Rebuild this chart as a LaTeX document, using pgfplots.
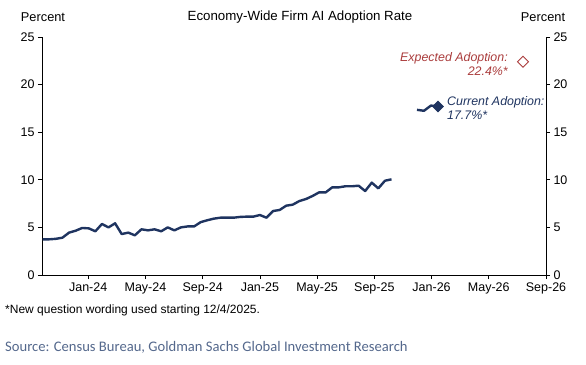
\documentclass[border=0pt]{standalone}
\usepackage{fontspec}
\setmainfont{Liberation Sans}
\newfontfamily\srcfont{Carlito}
\usepackage{pgfplots}
\pgfplotsset{compat=1.18}
\definecolor{navy}{RGB}{31,52,96}
\definecolor{expred}{RGB}{170,60,60}
\definecolor{srcblue}{RGB}{84,104,140}
\begin{document}
\begin{tikzpicture}[x=1pt,y=1pt]
\path[use as bounding box] (-42,-89) rectangle (544,275);
\begin{axis}[at={(0,0)}, anchor=south west, scale only axis,
  width=504pt, height=238pt,
  xmin=-3.23, xmax=32, ymin=0, ymax=25,
  axis x line*=bottom, axis y line*=left,
  axis line style={-, line width=0.6pt},
  xtick={0,4,8,12,16,20,24,28,32},
  xticklabels={Jan-24,May-24,Sep-24,Jan-25,May-25,Sep-25,Jan-26,May-26,Sep-26},
  ytick={0,5,10,15,20,25},
  tick align=outside, major tick length=4pt,
  tick style={black, line width=0.6pt},
  ticklabel style={font=\fontsize{12.5}{14}\selectfont},
  /pgf/number format/assume math mode=true,
  clip=false]
\addplot[navy, line width=2.4pt, line join=round] coordinates {
(-3.18,3.75) (-2.72,3.75) (-2.26,3.8) (-1.80,3.92) (-1.34,4.45) (-0.88,4.65)
(-0.42,4.94) (0.04,4.9) (0.50,4.59) (0.96,5.36) (1.42,5.0) (1.88,5.43)
(2.34,4.3) (2.80,4.45) (3.26,4.17) (3.72,4.8) (4.18,4.69) (4.64,4.8)
(5.10,4.59) (5.56,5.0) (6.02,4.69) (6.48,5.0) (6.94,5.1) (7.40,5.1)
(7.86,5.55) (8.32,5.75) (8.78,5.92) (9.24,6.02) (9.70,6.02) (10.16,6.02)
(10.62,6.1) (11.08,6.13) (11.54,6.13) (12.00,6.3) (12.46,6.02) (12.92,6.72)
(13.38,6.83) (13.84,7.28) (14.30,7.39) (14.76,7.77) (15.22,7.98) (15.68,8.3)
(16.14,8.68) (16.60,8.68) (17.06,9.21) (17.52,9.21) (17.98,9.32) (18.44,9.32)
(18.90,9.38) (19.36,8.82) (19.82,9.7) (20.28,9.1) (20.74,9.9) (21.20,10.05)
};
\addplot[navy, line width=2.4pt, line join=round] coordinates {
(22.98,17.35) (23.47,17.25) (23.96,17.8) (24.45,17.7)
};
\addplot[only marks, mark=square*, mark size=3.9pt, mark options={rotate=45, fill=navy, draw=navy}] coordinates {(24.45,17.7)};
\addplot[only marks, mark=square, mark size=3.9pt, mark options={rotate=45, draw=expred, line width=1pt}] coordinates {(30.39,22.4)};
\node[anchor=east, align=right, inner sep=0pt, text=expred, font=\fontsize{12.4}{14}\selectfont\itshape] at (axis cs:29.34,22.16) {Expected Adoption:\\22.4\%*};
\node[anchor=west, align=left, inner sep=0pt, text=navy, font=\fontsize{12.4}{14}\selectfont\itshape] at (axis cs:25.08,17.54) {Current Adoption:\\17.7\%*};
\end{axis}
\begin{axis}[at={(0,0)}, anchor=south west, scale only axis,
  width=504pt, height=238pt,
  xmin=-3.23, xmax=32, ymin=0, ymax=25,
  axis x line=none, axis y line*=right,
  axis line style={-, line width=0.6pt},
  ytick={0,5,10,15,20,25},
  tick align=outside, major tick length=4pt,
  tick style={black, line width=0.6pt},
  ticklabel style={font=\fontsize{12.5}{14}\selectfont},
  /pgf/number format/assume math mode=true]
\addplot[draw=none] coordinates {(0,0)};
\end{axis}
\node[font=\fontsize{13.3}{15}\selectfont] at (258,258) {Economy-Wide Firm AI Adoption Rate};
\node[font=\fontsize{12.8}{15}\selectfont] at (1,258) {Percent};
\node[font=\fontsize{12.8}{15}\selectfont] at (501,258) {Percent};
\node[anchor=west, inner sep=0pt, font=\fontsize{12}{14}\selectfont] at (-37,-35) {*New question wording used starting 12/4/2025.};
\node[anchor=west, inner sep=0pt, text=srcblue, font=\srcfont\fontsize{14.6}{17}\selectfont] at (-37,-72) {Source: Census Bureau, Goldman Sachs Global Investment Research};
\end{tikzpicture}
\end{document}
